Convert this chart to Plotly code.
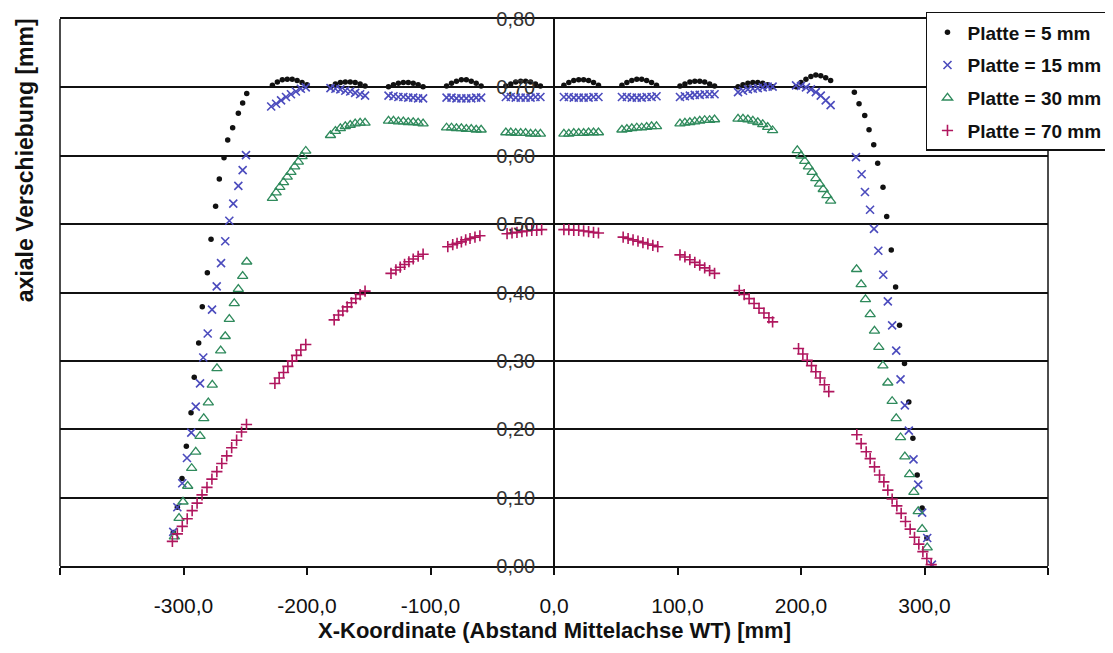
import plotly.graph_objects as go

# ---------------- data ----------------
names = ["Platte = 5 mm", "Platte = 15 mm", "Platte = 30 mm", "Platte = 70 mm"]

x_5mm = [-308.3, -305.0, -301.2, -297.7, -293.9, -291.3, -287.7, -284.8, -280.7, -277.7,
         -274.0, -271.0, -267.2, -264.2, -260.2, -255.6, -252.1, -248.8,
         -228, -224, -220, -216, -212, -208, -204, -200,
         -181, -177, -173, -169, -165, -161, -157, -153,
         -134, -130, -126, -122, -118, -114, -110, -106,
         -87, -83, -79, -75, -71, -67, -63, -59,
         -39, -35, -31, -27, -23, -19, -15, -11,
         8, 12, 16, 20, 24, 28, 32, 36,
         55, 59, 63, 67, 71, 75, 79, 83,
         102, 106, 110, 114, 118, 122, 126, 130,
         149, 153, 157, 161, 165, 169, 173, 177,
         196, 200, 204, 208, 212, 216, 220, 224,
         243.2, 247.0, 251.6, 255.1, 258.9, 262.1, 266.4, 269.4, 273.1, 276.6,
         279.8, 283.8, 287.3, 290.6, 294.1, 298.1, 301.9]
y_5mm = [0.049, 0.086, 0.128, 0.175, 0.224, 0.276, 0.326, 0.379, 0.429, 0.478,
         0.526, 0.566, 0.597, 0.623, 0.641, 0.662, 0.677, 0.691,
         0.703, 0.708, 0.711, 0.712, 0.712, 0.710, 0.707, 0.704,
         0.701, 0.705, 0.707, 0.708, 0.708, 0.707, 0.705, 0.702,
         0.701, 0.704, 0.706, 0.707, 0.707, 0.706, 0.704, 0.701,
         0.702, 0.706, 0.709, 0.711, 0.711, 0.709, 0.706, 0.702,
         0.702, 0.705, 0.708, 0.709, 0.709, 0.708, 0.705, 0.702,
         0.703, 0.707, 0.710, 0.711, 0.711, 0.710, 0.707, 0.703,
         0.703, 0.707, 0.710, 0.712, 0.712, 0.710, 0.707, 0.703,
         0.702, 0.705, 0.708, 0.709, 0.709, 0.708, 0.705, 0.702,
         0.701, 0.704, 0.706, 0.707, 0.707, 0.706, 0.704, 0.701,
         0.701, 0.707, 0.712, 0.716, 0.718, 0.717, 0.714, 0.710,
         0.693, 0.676, 0.659, 0.638, 0.616, 0.589, 0.554, 0.511, 0.462, 0.408,
         0.352, 0.296, 0.240, 0.187, 0.133, 0.085, 0.041]

x_15mm = [-308.3, -305.0, -301.0, -297.2, -293.7, -290.1, -286.6, -284.0, -280.4, -276.9,
          -273.1, -269.6, -266.2, -262.9, -259.7, -255.6, -252.1, -249.4,
          -229, -225, -221, -217, -213, -209, -205, -201,
          -181, -177, -173, -169, -165, -161, -157, -153,
          -134, -130, -126, -122, -118, -114, -110, -106,
          -87, -83, -79, -75, -71, -67, -63, -59,
          -39, -35, -31, -27, -23, -19, -15, -11,
          8, 12, 16, 20, 24, 28, 32, 36,
          55, 59, 63, 67, 71, 75, 79, 83,
          102, 106, 110, 114, 118, 122, 126, 130,
          149, 153, 157, 161, 165, 169, 173, 177,
          196, 200, 204, 208, 212, 216, 220, 224,
          244.5, 249.1, 251.8, 255.9, 259.1, 262.6, 266.6, 270.3, 273.8, 277.1,
          280.6, 284.1, 287.3, 291.1, 294.9, 298.1, 302.2, 306.0]
y_15mm = [0.050, 0.086, 0.121, 0.158, 0.195, 0.233, 0.267, 0.305, 0.340, 0.375,
          0.409, 0.443, 0.475, 0.505, 0.530, 0.556, 0.579, 0.601,
          0.672, 0.676, 0.681, 0.686, 0.690, 0.694, 0.698, 0.700,
          0.699, 0.698, 0.697, 0.695, 0.694, 0.692, 0.690, 0.688,
          0.688, 0.687, 0.686, 0.686, 0.685, 0.685, 0.684, 0.684,
          0.685, 0.685, 0.684, 0.684, 0.684, 0.684, 0.685, 0.685,
          0.686, 0.686, 0.685, 0.685, 0.685, 0.685, 0.686, 0.686,
          0.686, 0.686, 0.685, 0.685, 0.685, 0.685, 0.686, 0.686,
          0.686, 0.686, 0.685, 0.685, 0.685, 0.686, 0.686, 0.687,
          0.686, 0.687, 0.688, 0.689, 0.689, 0.690, 0.690, 0.690,
          0.693, 0.695, 0.697, 0.698, 0.699, 0.700, 0.701, 0.701,
          0.703, 0.702, 0.700, 0.697, 0.693, 0.688, 0.681, 0.674,
          0.598, 0.573, 0.547, 0.521, 0.493, 0.461, 0.426, 0.387, 0.352, 0.315,
          0.273, 0.235, 0.198, 0.156, 0.119, 0.078, 0.041, 0.002]

x_30mm = [-307.4, -303.6, -300.4, -296.6, -293.4, -290.1, -286.6, -283.6, -279.9, -276.7,
          -272.9, -269.9, -266.2, -262.9, -258.9, -255.6, -252.1, -248.8,
          -228, -225, -222, -219, -216, -213, -210, -207, -204, -201,
          -181, -177, -173, -169, -165, -161, -157, -153,
          -134, -130, -126, -122, -118, -114, -110, -106,
          -87, -83, -79, -75, -71, -67, -63, -59,
          -39, -35, -31, -27, -23, -19, -15, -11,
          8, 12, 16, 20, 24, 28, 32, 36,
          55, 59, 63, 67, 71, 75, 79, 83,
          102, 106, 110, 114, 118, 122, 126, 130,
          149, 153, 157, 161, 165, 169, 173, 177,
          197, 200, 203, 206, 209, 212, 215, 218, 221, 224,
          245.0, 248.7, 252.2, 256.0, 259.5, 263.0, 266.3, 270.3, 273.8, 277.1,
          280.6, 284.1, 287.9, 291.4, 294.9, 298.1, 302.2]
y_30mm = [0.043, 0.070, 0.094, 0.117, 0.143, 0.167, 0.190, 0.216, 0.239, 0.265,
          0.289, 0.315, 0.336, 0.361, 0.384, 0.405, 0.424, 0.445,
          0.538, 0.546, 0.554, 0.561, 0.569, 0.576, 0.584, 0.591, 0.599, 0.607,
          0.630, 0.636, 0.640, 0.643, 0.645, 0.647, 0.648, 0.648,
          0.651, 0.651, 0.650, 0.650, 0.649, 0.649, 0.648, 0.647,
          0.641, 0.641, 0.640, 0.640, 0.639, 0.639, 0.638, 0.638,
          0.634, 0.634, 0.633, 0.633, 0.633, 0.632, 0.632, 0.632,
          0.632, 0.632, 0.633, 0.633, 0.633, 0.634, 0.634, 0.634,
          0.638, 0.639, 0.640, 0.641, 0.641, 0.642, 0.643, 0.643,
          0.647, 0.648, 0.649, 0.650, 0.651, 0.652, 0.652, 0.653,
          0.654, 0.654, 0.653, 0.651, 0.649, 0.646, 0.642, 0.637,
          0.608, 0.600, 0.592, 0.584, 0.576, 0.567, 0.559, 0.551, 0.542, 0.534,
          0.434, 0.412, 0.390, 0.368, 0.344, 0.320, 0.293, 0.268, 0.241, 0.216,
          0.188, 0.160, 0.134, 0.108, 0.080, 0.054, 0.027]

x_70mm = [-309, -305, -301, -297, -293, -289, -285, -281, -277, -273,
          -269, -265, -261, -257, -253, -249,
          -226, -222.5, -219, -215.5, -212, -208.5, -205, -201,
          -178, -174.5, -171, -167.5, -164, -160.5, -157, -153,
          -132, -128, -124.5, -121, -117.5, -114, -110, -106,
          -86, -82, -78.5, -75, -71.5, -68, -64, -60,
          -38, -34, -30, -26, -22, -18, -14, -10,
          8, 12, 16, 20, 24, 28, 32, 36,
          56, 60, 64, 68, 72, 76, 80, 84,
          102, 106, 110, 114, 118, 122, 126, 130,
          150, 154, 158, 162, 166, 170, 174, 177,
          198, 201.5, 205, 208.5, 212, 215.5, 219, 222.5,
          245.2, 248.7, 252.8, 256.0, 259.5, 263.6, 267.1, 270.3, 273.8, 277.6,
          281.1, 284.6, 288.4, 291.9, 295.4, 298.7, 301.9, 305.4]
y_70mm = [0.036, 0.047, 0.058, 0.069, 0.081, 0.092, 0.104, 0.115, 0.127, 0.138,
          0.150, 0.161, 0.173, 0.184, 0.196, 0.207,
          0.267, 0.275, 0.283, 0.292, 0.300, 0.308, 0.316, 0.324,
          0.360, 0.367, 0.373, 0.379, 0.385, 0.391, 0.397, 0.402,
          0.428, 0.433, 0.437, 0.441, 0.445, 0.449, 0.453, 0.456,
          0.467, 0.470, 0.472, 0.474, 0.477, 0.479, 0.481, 0.483,
          0.486, 0.487, 0.488, 0.489, 0.490, 0.491, 0.491, 0.492,
          0.492, 0.492, 0.491, 0.491, 0.490, 0.489, 0.488, 0.487,
          0.481, 0.479, 0.477, 0.475, 0.473, 0.471, 0.469, 0.467,
          0.455, 0.452, 0.448, 0.444, 0.440, 0.436, 0.432, 0.428,
          0.403, 0.397, 0.391, 0.384, 0.377, 0.370, 0.363, 0.357,
          0.318, 0.310, 0.301, 0.293, 0.284, 0.275, 0.265, 0.255,
          0.192, 0.179, 0.167, 0.157, 0.145, 0.133, 0.123, 0.111, 0.098, 0.088,
          0.077, 0.065, 0.054, 0.042, 0.032, 0.021, 0.011, 0.002]

x_ticks = [-400, -300, -200, -100, 0, 100, 200, 300, 400]
x_ticklabels = ["", "-300,0", "-200,0", "-100,0", "0,0", "100,0", "200,0", "300,0", ""]
y_ticks = [0.0, 0.1, 0.2, 0.3, 0.4, 0.5, 0.6, 0.7, 0.8]
y_ticklabels = ["0,00", "0,10", "0,20", "0,30", "0,40", "0,50", "0,60", "0,70", "0,80"]

x_title = "X-Koordinate (Abstand Mittelachse WT) [mm]"
y_title = "axiale Verschiebung [mm]"

# ---------------- figure ----------------
FONT = "Liberation Sans, Arial, sans-serif"

fig = go.Figure()
fig.add_trace(go.Scatter(x=x_5mm, y=y_5mm, mode="markers", name="<b>" + names[0] + "</b>",
                         legendgroup="g1",
                         marker=dict(symbol="circle", size=5.5, color="#111111")))
fig.add_trace(go.Scatter(x=x_15mm, y=y_15mm, mode="markers", name="<b>" + names[1] + "</b>",
                         legendgroup="g2",
                         marker=dict(symbol="x-thin", size=8, color="#4b4bbd",
                                     line=dict(width=1.6, color="#4b4bbd"))))
fig.add_trace(go.Scatter(x=x_30mm, y=y_30mm, mode="markers", name="<b>" + names[2] + "</b>",
                         legendgroup="g3",
                         marker=dict(symbol="triangle-up-open", size=9, color="#2f8a5c",
                                     line=dict(width=1.3, color="#2f8a5c"))))
fig.add_trace(go.Scatter(x=x_70mm, y=y_70mm, mode="markers", name="<b>" + names[3] + "</b>",
                         legendgroup="g4",
                         marker=dict(symbol="cross-thin", size=8, color="#b0165e",
                                     line=dict(width=1.6, color="#b0165e"))))

# page body has an 8px default margin: figure is sized so that it fits the window
fig.update_layout(
    width=1097, height=637,
    margin=dict(l=52, r=57, t=11, b=79, autoexpand=False),
    paper_bgcolor="white", plot_bgcolor="white",
    font=dict(family=FONT, color="#111111"),
    showlegend=True,
    legend=dict(x=0.8765, y=1.0128, xanchor="left", yanchor="top",
                bgcolor="white", bordercolor="#111111", borderwidth=1.5,
                font=dict(family=FONT, size=19, color="#111111"),
                tracegroupgap=5, itemsizing="trace"),
    xaxis=dict(range=[-400, 400], tickmode="array", tickvals=x_ticks,
               ticktext=x_ticklabels, ticks="outside", ticklen=7, tickwidth=1.5,
               tickcolor="#111111", showline=True, linecolor="#111111", linewidth=1.5,
               mirror=True, showgrid=False, zeroline=False,
               tickfont=dict(family=FONT, size=21, color="#111111"),
               ticklabelstandoff=13),
    yaxis=dict(range=[0, 0.8], tickmode="array", tickvals=y_ticks,
               ticktext=y_ticklabels, anchor="free", position=0.5,
               ticks="", showline=True, linecolor="#111111", linewidth=1.5,
               showgrid=True, gridcolor="#111111", gridwidth=1.5, zeroline=False,
               tickfont=dict(family=FONT, size=20, color="#333333"),
               ticklabelstandoff=14),
    shapes=[
        dict(type="line", xref="paper", yref="paper", x0=0, x1=0, y0=0, y1=1,
             line=dict(color="#111111", width=1.5)),
        dict(type="line", xref="paper", yref="paper", x0=1, x1=1, y0=0, y1=1,
             line=dict(color="#111111", width=1.5)),
    ],
    annotations=[
        dict(text="<b>" + x_title + "</b>", xref="paper", yref="paper",
             x=0.5, y=-0.1185, showarrow=False, xanchor="center", yanchor="middle",
             font=dict(family=FONT, size=22, color="#111111")),
        dict(text="<b>" + y_title + "</b>", xref="paper", yref="paper",
             x=-0.0354, y=0.742, showarrow=False, textangle=-90,
             xanchor="center", yanchor="middle",
             font=dict(family=FONT, size=23, color="#111111")),
    ],
)

fig.write_html("out.html")
